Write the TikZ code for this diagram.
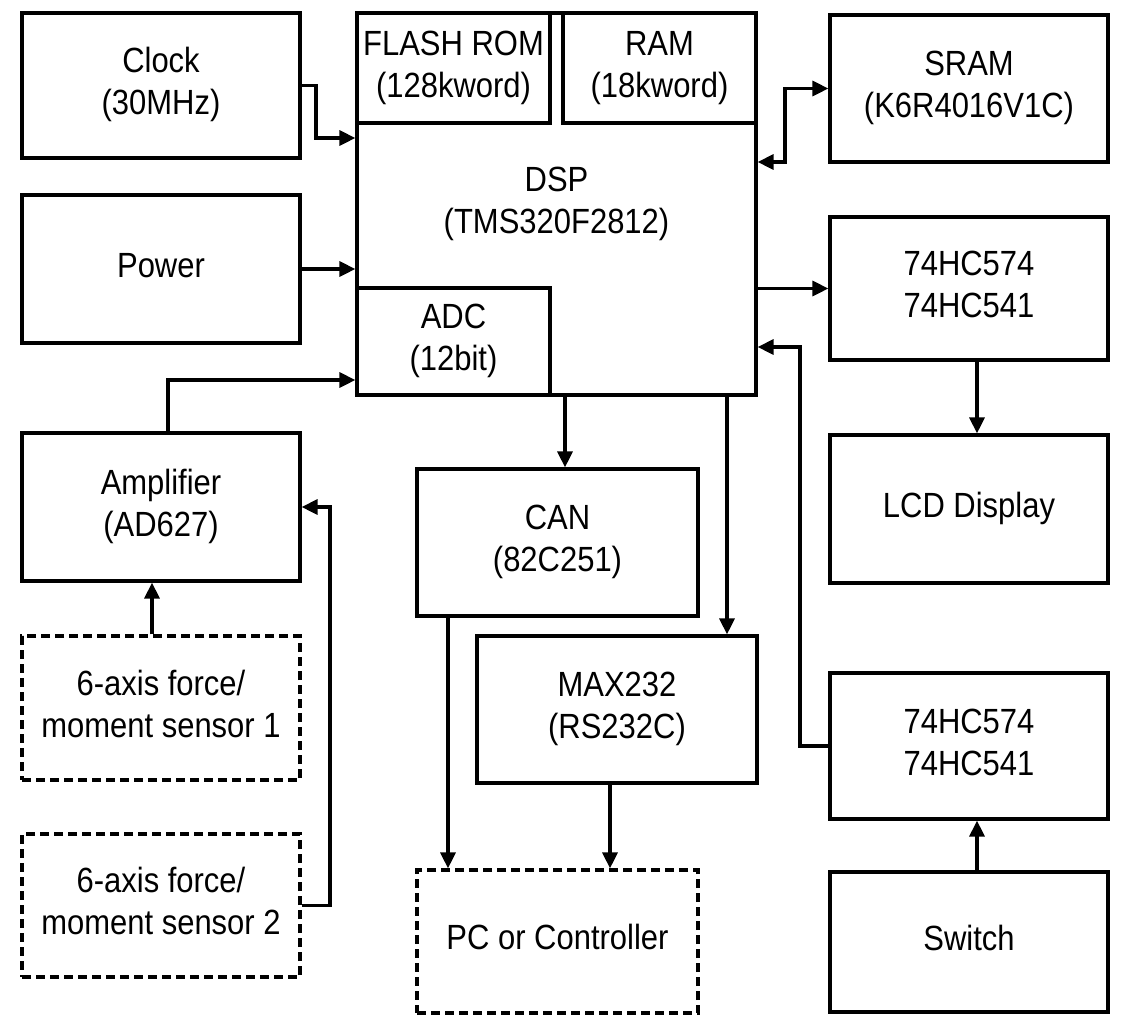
\documentclass[tikz,border=0pt]{standalone}
\usepackage{fontspec}
\setmainfont{Liberation Sans}
\usetikzlibrary{arrows.meta}
\newcommand{\lb}[1]{\scalebox{0.885}[1]{\begin{tabular}{@{}c@{}}#1\end{tabular}}}
\begin{document}
\begin{tikzpicture}[x=1pt,y=-1pt,
  box/.style={draw, line width=3.2pt, rectangle, inner sep=0pt, font=\fontsize{35}{42}\selectfont},
  dbox/.style={box, line width=3.2pt, dash pattern=on 9pt off 5pt},
  arr/.style={line width=3.2pt, -{Triangle[length=16pt,width=15pt]}},
  darr/.style={line width=3.2pt, {Triangle[length=16pt,width=15pt]}-{Triangle[length=16pt,width=15pt]}}]
\fill[white] (0,0) rectangle (1122,1018);
\useasboundingbox (0,0) rectangle (1122,1018);
% left column
\node[box, minimum width=278, minimum height=145] (clock) at (161,85.5) {\lb{Clock\\(30MHz)}};
\node[box, minimum width=278, minimum height=148] (power) at (161,269) {\lb{Power}};
\node[box, minimum width=278, minimum height=148] (amp) at (161,507) {\lb{Amplifier\\(AD627)}};
\node[dbox, minimum width=278, minimum height=144] (s1) at (161,708) {\lb{6-axis force/\\moment sensor 1}};
\node[dbox, minimum width=278, minimum height=143] (s2) at (161,905.5) {\lb{6-axis force/\\moment sensor 2}};
% DSP block
\node[box, minimum width=399, minimum height=382] (dsp) at (556.5,204) {\lb{DSP\\(TMS320F2812)}};
\node[box, minimum width=193, minimum height=110] (flash) at (453.5,68) {\lb{FLASH ROM\\(128kword)}};
\node[box, minimum width=193, minimum height=110] (ram) at (659.5,68) {\lb{RAM\\(18kword)}};
\node[box, minimum width=193, minimum height=107] (adc) at (453.5,341.5) {\lb{ADC\\(12bit)}};
% middle column
\node[box, minimum width=281, minimum height=147] (can) at (557.5,542.5) {\lb{CAN\\(82C251)}};
\node[box, minimum width=280, minimum height=147] (max) at (617,709.5) {\lb{MAX232\\(RS232C)}};
\node[dbox, minimum width=281, minimum height=143] (pc) at (557.5,941.5) {\lb{PC or Controller}};
% right column
\node[box, minimum width=278, minimum height=147] (sram) at (969,88.5) {\lb{SRAM\\(K6R4016V1C)}};
\node[box, minimum width=278, minimum height=143] (hca) at (969,288.5) {\lb{74HC574\\74HC541}};
\node[box, minimum width=278, minimum height=148] (lcd) at (969,509) {\lb{LCD Display}};
\node[box, minimum width=278, minimum height=146] (hcb) at (969,746) {\lb{74HC574\\74HC541}};
\node[box, minimum width=278, minimum height=140] (sw) at (969,942) {\lb{Switch}};
% connectors
\draw[arr] (clock.east) -| (316,138) -- (dsp.west |- 316,138);
\draw[arr] (power.east) -- (power.east -| dsp.west);
\draw[arr] ([xshift=7pt]amp.north) |- (dsp.west |- 0,380);
\draw[arr] ([xshift=-9pt]s1.north) -- ([xshift=-9pt]amp.south);
\draw[arr] (s2.east) -| (330,507) -- (amp.east);
\draw[darr] (sram.west) -| (785,162) -- (dsp.east |- 785,162);
\draw[arr] (dsp.east |- hca.west) -- (hca.west);
\draw[arr] (hcb.west) -| (800,347) -- (dsp.east |- 800,347);
\draw[arr] ([xshift=8pt]hca.south) -- ([xshift=8pt]lcd.north);
\draw[arr] ([xshift=8pt]sw.north) -- ([xshift=8pt]hcb.south);
\draw[arr] (dsp.south -| 565,0) -- (can.north -| 565,0);
\draw[arr] (dsp.south -| 727,0) -- (max.north -| 727,0);
\draw[arr] (can.south -| 448,0) -- (pc.north -| 448,0);
\draw[arr] (max.south -| 610,0) -- (pc.north -| 610,0);
\end{tikzpicture}
\end{document}
